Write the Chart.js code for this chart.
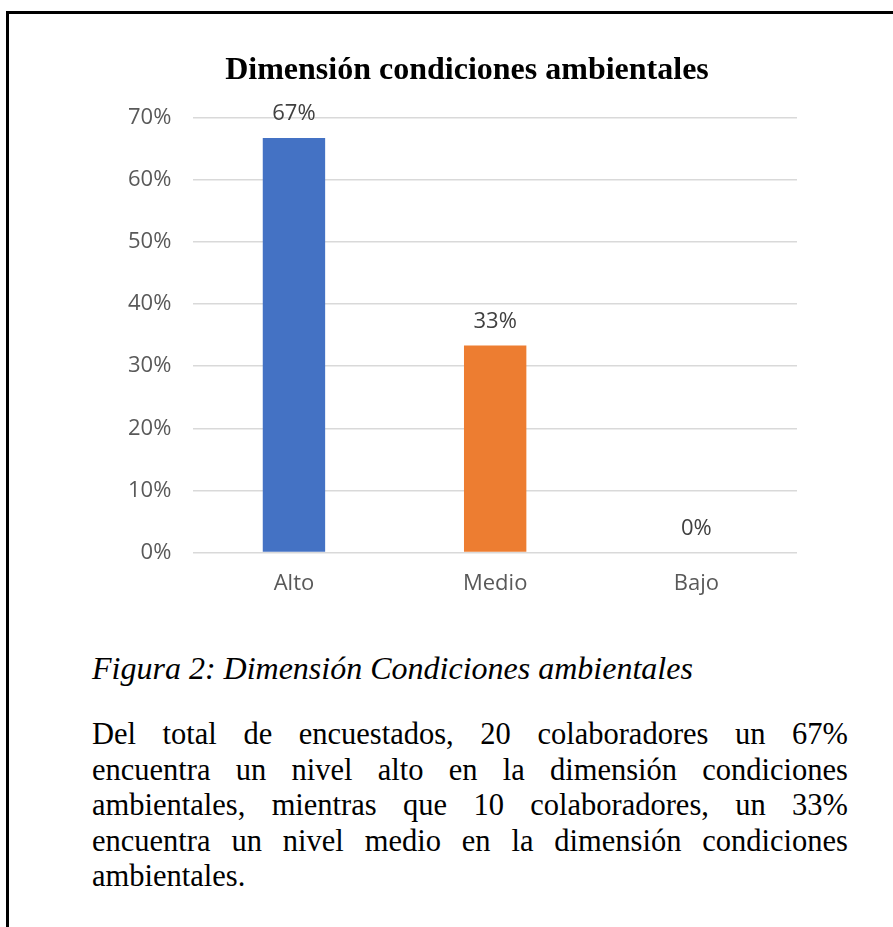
<!DOCTYPE html>
<html lang="es">
<head>
<meta charset="utf-8">
<title>Dimensión condiciones ambientales</title>
<script src="https://cdn.jsdelivr.net/npm/chart.js@4.4.1/dist/chart.umd.min.js"></script>
<style>
    html, body { margin: 0; padding: 0; background: #fff; }
    body { width: 893px; height: 927px; position: relative; overflow: hidden; }
    .marco {
        position: absolute; left: 6px; top: 11px; width: 1000px; height: 1000px;
        border-top: 3px solid #000; border-left: 3px solid #000;
    }
    .grafico { position: absolute; left: 0; top: 0; width: 893px; height: 647px; }
    .texto {
        position: absolute; left: 92px; width: 756px;
        font-family: "Liberation Serif", "Times New Roman", serif;
        font-size: 30.5px; line-height: 35.5px; color: #000;
    }
    .pie { top: 651px; font-style: italic; font-size: 32px; }
    .parrafo { top: 717px; }
    .parrafo .linea { text-align: justify; text-align-last: justify; white-space: nowrap; }
    .parrafo .linea.ultima { text-align-last: left; }
</style>
</head>
<body>
<div class="marco"></div>
<div class="grafico"><canvas id="chart"></canvas></div>
<div class="texto pie">Figura 2: Dimensión Condiciones ambientales</div>
<div class="texto parrafo">
    <div class="linea">Del total de encuestados, 20 colaboradores un 67%</div>
    <div class="linea">encuentra un nivel alto en la dimensión condiciones</div>
    <div class="linea">ambientales, mientras que 10 colaboradores, un 33%</div>
    <div class="linea">encuentra un nivel medio en la dimensión condiciones</div>
    <div class="linea ultima">ambientales.</div>
</div>

<script>
// --- Datos ---
const categorias = ['Alto', 'Medio', 'Bajo'];
const porcentajes = [0.667, 0.333, 0];
const coloresBarras = ['#4472C4', '#ED7D31', '#A5A5A5'];
const etiquetasEjeY = ['0%', '10%', '20%', '30%', '40%', '50%', '60%', '70%'];

// Plugin simple para escribir el valor encima de cada barra
const etiquetasValor = {
    id: 'etiquetasValor',
    afterDatasetsDraw(chart) {
        const ctx = chart.ctx;
        const meta = chart.getDatasetMeta(0);
        ctx.save();
        ctx.font = '22px "Open Sans", sans-serif';
        ctx.fillStyle = '#404040';
        ctx.textAlign = 'center';
        ctx.textBaseline = 'alphabetic';
        meta.data.forEach((barra, i) => {
            const texto = Math.round(porcentajes[i] * 100) + '%';
            ctx.fillText(texto, barra.x, barra.y - 18);
        });
        ctx.restore();
    }
};

const ctx = document.getElementById('chart').getContext('2d');
new Chart(ctx, {
    type: 'bar',
    data: {
        labels: categorias,
        datasets: [{
            data: porcentajes,
            backgroundColor: coloresBarras,
            barPercentage: 0.62,
            categoryPercentage: 0.5
        }]
    },
    options: {
        responsive: true,
        maintainAspectRatio: false,
        animation: false,
        layout: { padding: { top: 0, left: 106, right: 65, bottom: 40 } },
        plugins: {
            legend: { display: false },
            tooltip: { enabled: false },
            title: {
                display: true,
                text: 'Dimensión condiciones ambientales',
                color: '#000',
                font: { family: '"Liberation Serif", "Times New Roman", serif', size: 32, weight: 'bold' },
                padding: { top: 52, bottom: 27 }
            }
        },
        scales: {
            x: {
                grid: { display: false },
                border: { display: false },
                ticks: {
                    color: '#595959',
                    font: { family: '"Open Sans", sans-serif', size: 22 },
                    padding: 10
                }
            },
            y: {
                min: 0,
                max: 0.7,
                border: { display: false },
                grid: { color: '#D9D9D9', lineWidth: 1.5, drawTicks: false },
                ticks: {
                    stepSize: 0.1,
                    color: '#595959',
                    font: { family: '"Open Sans", sans-serif', size: 22 },
                    padding: 22,
                    callback: (v, i) => etiquetasEjeY[i]
                }
            },
            // eje vacío a la derecha: solo deja margen para que el título quede como en Excel
            margen: {
                type: 'linear',
                position: 'right',
                border: { display: false },
                grid: { display: false },
                ticks: { display: false },
                afterFit: (escala) => { escala.width = 31; }
            }
        }
    },
    plugins: [etiquetasValor]
});
</script>
</body>
</html>
